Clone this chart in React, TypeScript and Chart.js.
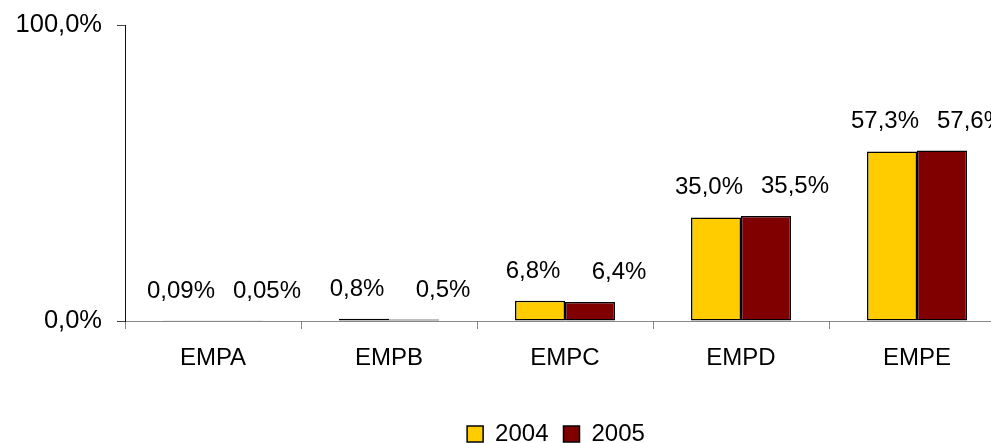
import React, { useEffect, useRef } from "react";
import { Chart, registerables } from "chart.js";

Chart.register(...registerables);

const categories = ["EMPA", "EMPB", "EMPC", "EMPD", "EMPE"];
const seriesLabels = ["2004", "2005"];
const values2004 = [0.09, 0.8, 6.8, 35.0, 57.3];
const values2005 = [0.05, 0.5, 6.4, 35.5, 57.6];
const yTickValues = [0, 100];

const FONT = "'Liberation Sans', Arial, Helvetica, sans-serif";
const LABEL_SHIFT = [-7, 29];
const LEGEND_CENTER_X = 556;

const fmt = (v: number, d: number) => v.toFixed(d).replace(".", ",") + "%";
const labelText = (v: number) => fmt(v, v < 0.1 ? 2 : 1);

const valueLabels = {
  id: "valueLabels",
  afterDatasetsDraw(chart: any) {
    const ctx = chart.ctx;
    ctx.save();
    ctx.font = `24px ${FONT}`;
    ctx.fillStyle = "#000";
    ctx.textAlign = "center";
    ctx.textBaseline = "alphabetic";
    chart.data.datasets.forEach((ds: any, di: number) => {
      const meta = chart.getDatasetMeta(di);
      meta.data.forEach((el: any, i: number) => {
        ctx.fillText(labelText(ds.data[i]), el.x + LABEL_SHIFT[di], el.y - 23);
      });
    });
    ctx.restore();
  },
};

const legendShift = {
  id: "legendShift",
  afterLayout(chart: any) {
    const lg = chart.legend;
    if (!lg) return;
    const shift = LEGEND_CENTER_X - (lg.left + lg.right) / 2;
    lg.left += shift;
    lg.right += shift;
  },
};

export default function App() {
  const ref = useRef<HTMLCanvasElement | null>(null);

  useEffect(() => {
    if (!ref.current) return;
    const chart = new Chart(ref.current, {
      type: "bar",
      data: {
        labels: categories,
        datasets: [
          {
            label: seriesLabels[0],
            data: values2004,
            backgroundColor: "#FFCC00",
            borderColor: "#000",
            borderWidth: 1.5,
            borderSkipped: false,
          },
          {
            label: seriesLabels[1],
            data: values2005,
            backgroundColor: "#800000",
            borderColor: "#000",
            borderWidth: 1.5,
            borderSkipped: false,
          },
        ],
      },
      options: {
        responsive: false,
        animation: false,
        devicePixelRatio: 1,
        font: { family: FONT, size: 24 },
        color: "#000",
        layout: { padding: { left: 10, right: 5, top: 25, bottom: 0 } },
        datasets: {
          bar: { categoryPercentage: 0.568, barPercentage: 1 },
        },
        plugins: {
          tooltip: { enabled: false },
          legend: {
            position: "bottom",
            labels: {
              font: { family: FONT, size: 24 },
              color: "#000",
              boxWidth: 16,
              boxHeight: 16,
              padding: 15,
            },
          },
        },
        scales: {
          x: {
            offset: true,
            grid: {
              offset: true,
              drawOnChartArea: false,
              drawTicks: true,
              tickLength: 8,
              color: "#888",
            },
            border: { display: true, color: "#888", width: 1 },
            ticks: {
              color: "#000",
              font: { family: FONT, size: 24 },
              padding: 15,
              maxRotation: 0,
            },
            afterFit: (s: any) => {
              s.height = 86;
            },
          },
          y: {
            min: 0,
            max: 100,
            grid: {
              drawOnChartArea: false,
              drawTicks: true,
              tickLength: 8,
              color: "#444",
            },
            border: { display: true, color: "#111", width: 1 },
            afterBuildTicks: (s: any) => {
              s.ticks = yTickValues.map((v) => ({ value: v }));
            },
            ticks: {
              color: "#000",
              font: { family: FONT, size: 25.5 },
              padding: 15,
              callback: (v: any) => fmt(Number(v), 1),
            },
            afterFit: (s: any) => {
              s.width = 115;
              s.paddingTop = 0;
              s.paddingBottom = 0;
            },
          },
        },
      },
      plugins: [valueLabels, legendShift],
    });
    return () => chart.destroy();
  }, []);

  return (
    <div
      style={{
        position: "fixed",
        left: 0,
        top: 0,
        width: 991,
        height: 443,
        overflow: "hidden",
        background: "#fff",
      }}
    >
      <canvas
        ref={ref}
        width={1010}
        height={456}
        style={{ width: 1010, height: 456, display: "block" }}
      />
    </div>
  );
}
